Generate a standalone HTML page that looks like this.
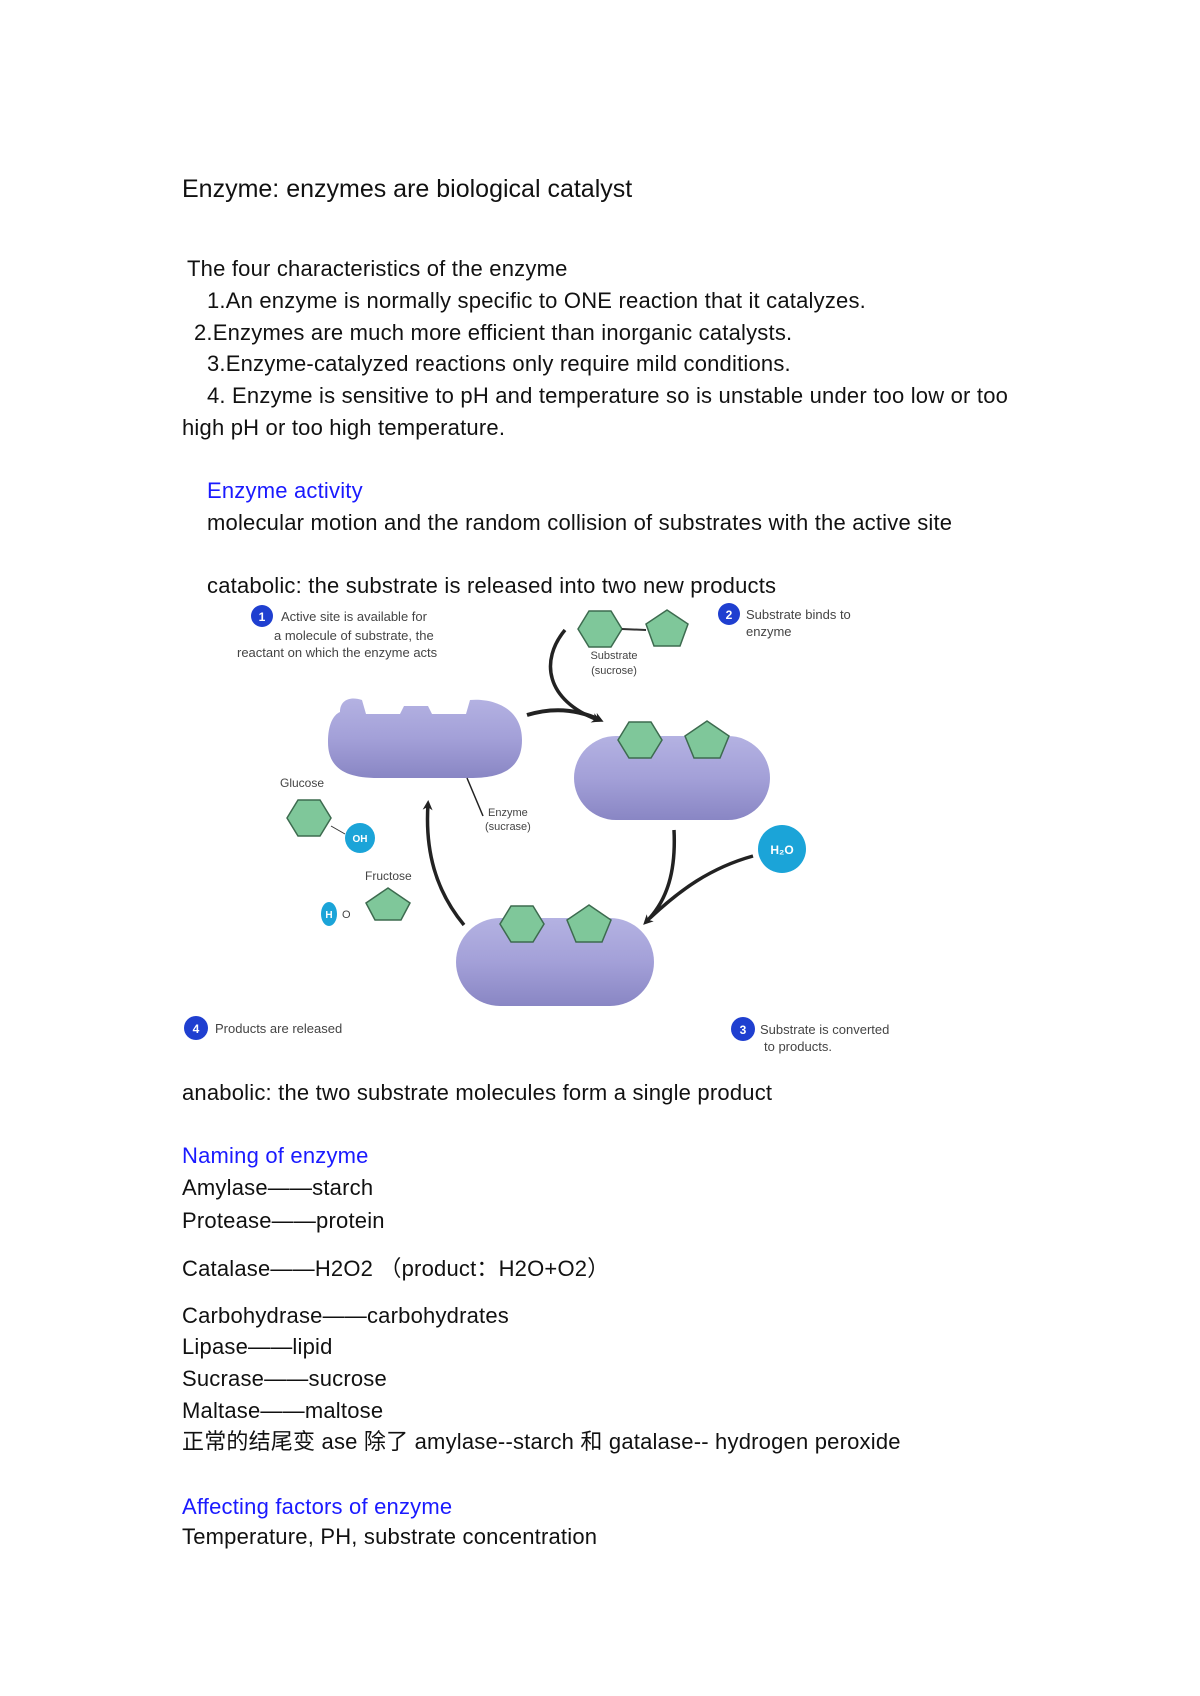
<!DOCTYPE html>
<html><head><meta charset="utf-8"><style>
html,body{margin:0;padding:0;background:#fff;}
body{width:1200px;height:1696px;position:relative;overflow:hidden;font-family:"Liberation Sans","Noto Sans CJK SC",sans-serif;color:#111;}
.t{position:absolute;white-space:nowrap;font-size:22px;letter-spacing:0.2px;line-height:1;}
.b{color:#1a1aff;}
svg{position:absolute;left:0;top:0;}
</style></head><body>
<div class="t" style="left:182px;top:177px;font-size:25px;letter-spacing:0;">Enzyme: enzymes are biological catalyst</div>
<div class="t" style="left:187px;top:258px;">The four characteristics of the enzyme</div>
<div class="t" style="left:207px;top:290px;">1.An enzyme is normally specific to ONE reaction that it catalyzes.</div>
<div class="t" style="left:194px;top:322px;">2.Enzymes are much more efficient than inorganic catalysts.</div>
<div class="t" style="left:207px;top:353px;">3.Enzyme-catalyzed reactions only require mild conditions.</div>
<div class="t" style="left:207px;top:385px;">4. Enzyme is sensitive to pH and temperature so is unstable under too low or too</div>
<div class="t" style="left:182px;top:417px;">high pH or too high temperature.</div>
<div class="t b" style="left:207px;top:480px;">Enzyme activity</div>
<div class="t" style="left:207px;top:512px;">molecular motion and the random collision of substrates with the active site</div>
<div class="t" style="left:207px;top:575px;">catabolic: the substrate is released into two new products</div>

<svg width="1200" height="1696" viewBox="0 0 1200 1696">
<defs>
<linearGradient id="g" x1="0" y1="0" x2="0" y2="1">
<stop offset="0" stop-color="#b4b2e2"/><stop offset="0.5" stop-color="#a3a0d8"/><stop offset="1" stop-color="#8986c4"/></linearGradient>
<marker id="ar" markerWidth="10" markerHeight="10" refX="6" refY="5" orient="auto" markerUnits="userSpaceOnUse"><path d="M0,0 L10,5 L0,10 L3,5z" fill="#222"/></marker>
</defs>
<g font-family="Liberation Sans, sans-serif" font-size="13" fill="#444">
<circle cx="262" cy="616" r="11" fill="#1f3fd0"/><text x="262" y="621" fill="#fff" font-size="12" text-anchor="middle" font-weight="bold">1</text>
<text x="281" y="621">Active site is available for</text>
<text x="274" y="640">a molecule of substrate, the</text>
<text x="237" y="657">reactant on which the enzyme acts</text>
<circle cx="729" cy="614" r="11" fill="#1f3fd0"/><text x="729" y="619" fill="#fff" font-size="12" text-anchor="middle" font-weight="bold">2</text>
<text x="746" y="619">Substrate binds to</text>
<text x="746" y="636">enzyme</text>
<polygon points="578,629 589,611 611,611 622,629 611,647 589,647" fill="#7fc79a" stroke="#3d6b4f" stroke-width="1.5"/>
<line x1="622" y1="629" x2="646" y2="630" stroke="#333" stroke-width="2"/>
<polygon points="667,610 688,624 680,646 654,646 646,624" fill="#7fc79a" stroke="#3d6b4f" stroke-width="1.5"/>
<text x="614" y="659" text-anchor="middle" font-size="11">Substrate</text>
<text x="614" y="674" text-anchor="middle" font-size="11">(sucrose)</text>
<path d="M565,630 C540,660 545,700 598,720" fill="none" stroke="#222" stroke-width="3.5" marker-end="url(#ar)"/>
<path d="M527,715 C550,708 575,708 600,720" fill="none" stroke="#222" stroke-width="4" marker-end="url(#ar)"/>
<path d="M340,712 C340,700 350,696 362,700 L366,714 L400,714 L404,706 L428,706 L432,714 L466,714 L470,700 C490,698 522,706 522,740 C522,770 500,778 470,778 L378,778 C345,778 328,768 328,742 C328,725 333,715 340,712z" fill="url(#g)"/>
<line x1="467" y1="778" x2="483" y2="816" stroke="#222" stroke-width="1.5"/>
<text x="488" y="816" font-size="11">Enzyme</text><text x="485" y="830" font-size="11">(sucrase)</text>
<rect x="574" y="736" width="196" height="84" rx="42" fill="url(#g)"/>
<polygon points="618,740 629,722 651,722 662,740 651,758 629,758" fill="#7fc79a" stroke="#3d6b4f" stroke-width="1.5"/>
<polygon points="707,721 729,736 720,758 694,758 685,736" fill="#7fc79a" stroke="#3d6b4f" stroke-width="1.5"/>
<circle cx="782" cy="849" r="24" fill="#1ba4d8"/><text x="782" y="854" fill="#fff" font-size="12" text-anchor="middle" font-weight="bold">H₂O</text>
<path d="M674,830 C676,870 668,900 646,922" fill="none" stroke="#222" stroke-width="3.5" marker-end="url(#ar)"/>
<path d="M753,856 C710,868 680,890 650,918" fill="none" stroke="#222" stroke-width="3.5"/>
<rect x="456" y="918" width="198" height="88" rx="44" fill="url(#g)"/>
<polygon points="500,924 511,906 533,906 544,924 533,942 511,942" fill="#7fc79a" stroke="#3d6b4f" stroke-width="1.5"/>
<polygon points="589,905 611,920 602,942 576,942 567,920" fill="#7fc79a" stroke="#3d6b4f" stroke-width="1.5"/>
<path d="M464,925 C435,890 425,850 428,804" fill="none" stroke="#222" stroke-width="3.5" marker-end="url(#ar)"/>
<text x="280" y="787" font-size="12">Glucose</text>
<polygon points="287,818 298,800 320,800 331,818 320,836 298,836" fill="#7fc79a" stroke="#3d6b4f" stroke-width="1.5"/>
<line x1="331" y1="826" x2="345" y2="834" stroke="#333"/>
<circle cx="360" cy="838" r="15" fill="#1ba4d8"/><text x="360" y="842" fill="#fff" font-size="10" text-anchor="middle" font-weight="bold">OH</text>
<text x="365" y="880" font-size="12">Fructose</text>
<polygon points="388,888 410,903 401,920 375,920 366,903" fill="#7fc79a" stroke="#3d6b4f" stroke-width="1.5"/>
<ellipse cx="329" cy="914" rx="8" ry="12" fill="#1ba4d8"/><text x="329" y="918" fill="#fff" font-size="10" text-anchor="middle" font-weight="bold">H</text>
<text x="342" y="918" font-size="11">O</text>
<circle cx="196" cy="1028" r="12" fill="#1f3fd0"/><text x="196" y="1033" fill="#fff" font-size="12" text-anchor="middle" font-weight="bold">4</text>
<text x="215" y="1033">Products are released</text>
<circle cx="743" cy="1029" r="12" fill="#1f3fd0"/><text x="743" y="1034" fill="#fff" font-size="12" text-anchor="middle" font-weight="bold">3</text>
<text x="760" y="1034">Substrate is converted</text>
<text x="764" y="1051">to products.</text>
</g>
</svg>

<div class="t" style="left:182px;top:1082px;">anabolic: the two substrate molecules form a single product</div>
<div class="t b" style="left:182px;top:1145px;">Naming of enzyme</div>
<div class="t" style="left:182px;top:1177px;">Amylase——starch</div>
<div class="t" style="left:182px;top:1210px;">Protease——protein</div>
<div class="t" style="left:182px;top:1258px;">Catalase——H2O2 （product：H2O+O2）</div>
<div class="t" style="left:182px;top:1305px;">Carbohydrase——carbohydrates</div>
<div class="t" style="left:182px;top:1336px;">Lipase——lipid</div>
<div class="t" style="left:182px;top:1368px;">Sucrase——sucrose</div>
<div class="t" style="left:182px;top:1400px;">Maltase——maltose</div>
<div class="t" style="left:182px;top:1431px;">正常的结尾变 ase 除了 amylase--starch 和 gatalase-- hydrogen peroxide</div>
<div class="t b" style="left:182px;top:1496px;">Affecting factors of enzyme</div>
<div class="t" style="left:182px;top:1526px;">Temperature, PH, substrate concentration</div>
</body></html>
